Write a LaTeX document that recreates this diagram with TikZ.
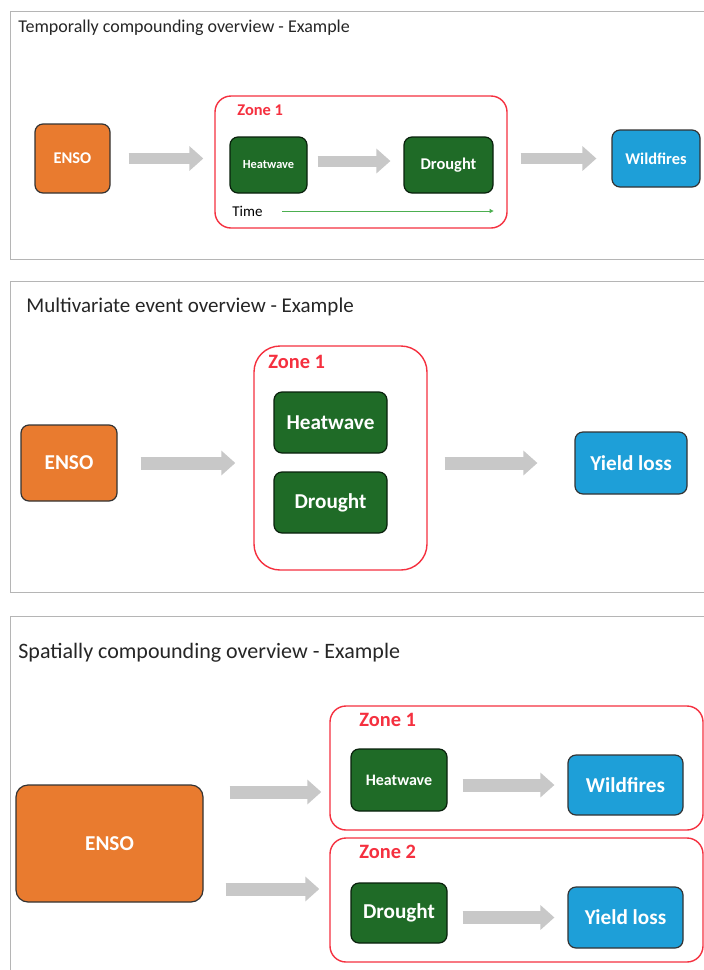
\documentclass[tikz,border=0pt]{standalone}
\usepackage{fontspec}
\setmainfont{Carlito}
\usetikzlibrary{arrows.meta,calc}
\definecolor{ensoC}{HTML}{E97B2F}
\definecolor{greenC}{HTML}{1F6B27}
\definecolor{blueC}{HTML}{1E9FD8}
\definecolor{zoneC}{HTML}{F5303F}
\definecolor{arrC}{HTML}{C8C8C8}
\definecolor{panelC}{HTML}{B5B5B5}
\definecolor{timeC}{HTML}{4CAF50}
\definecolor{edgeC}{HTML}{333333}
\newcommand{\fsz}[1]{\fontsize{#1}{#1}\selectfont}
\begin{document}
\begin{tikzpicture}[x=0.5pt,y=-0.5pt,
  panel/.style={draw=panelC,line width=0.5pt},
  boxbase/.style={rounded corners=4pt,line width=0.6pt,text=white,inner sep=0pt,align=center},
  ensobox/.style={boxbase,fill=ensoC,draw=edgeC},
  greenbox/.style={boxbase,fill=greenC,draw=black!70!greenC},
  bluebox/.style={boxbase,fill=blueC,draw=edgeC},
  zonebox/.style={draw=zoneC,line width=0.7pt,rounded corners=8pt,inner sep=0pt},
  zonelabel/.style={text=zoneC,anchor=west,inner sep=0pt},
  titlelabel/.style={anchor=west,inner sep=0pt,text=black!85},
  bigarrow/.style={draw=arrC,line width=6.5pt,-{Triangle[width=12pt,length=7pt]}},
]
\useasboundingbox (0,0) rectangle (704,970);
\fill[white] (0,0) rectangle (704,970);

% ---------------- Panel 1 ----------------
\draw[panel] (10,11) rectangle (720,259);
\node[titlelabel,font=\fsz{9pt}] (t1) at (18,28) {Temporally compounding overview - Example};
\node[ensobox,minimum width=37.5pt,minimum height=34.5pt,font=\bfseries\fsz{8.2pt}] (enso1) at (72.5,158.5) {ENSO};
\node[zonebox,minimum width=146pt,minimum height=66pt] (zone1a) at (361,162) {};
\node[zonelabel,font=\bfseries\fsz{8.2pt}] (zl1) at (237,110) {Zone 1};
\node[greenbox,minimum width=38.5pt,minimum height=28pt,font=\bfseries\fsz{6.2pt}] (hw1) at (268.5,165) {Heatwave};
\node[greenbox,minimum width=44.5pt,minimum height=28pt,font=\bfseries\fsz{8.2pt}] (dr1) at (448.5,165) {Drought};
\node[anchor=west,inner sep=0pt,font=\fsz{7.5pt}] (time1) at (232,211) {Time};
\node[bluebox,minimum width=44pt,minimum height=28.5pt,font=\bfseries\fsz{8.2pt}] (wf1) at (656,158.5) {Wildfires};
\draw[bigarrow,line width=5.5pt,shorten <=9pt,shorten >=5.5pt] (enso1.east) -- (enso1.east -| zone1a.west);
\draw[bigarrow,line width=5.5pt,shorten <=5pt,shorten >=6.5pt] ([yshift=2pt]hw1.east) -- ([yshift=2pt]dr1.west);
\draw[bigarrow,line width=5.5pt,shorten <=6.5pt,shorten >=7.5pt] (zone1a.east |- wf1.west) -- (wf1.west);
\draw[timeC,line width=0.5pt,shorten <=9.5pt,-{Triangle[width=2pt,length=2pt]}] (time1.east) -- (time1.east -| dr1.east);

% ---------------- Panel 2 ----------------
\draw[panel] (10,281) rectangle (720,592);
\node[titlelabel,font=\fsz{10.5pt}] (t2) at (26,307) {Multivariate event overview - Example};
\node[ensobox,minimum width=48pt,minimum height=38pt,font=\bfseries\fsz{10.6pt}] (enso2) at (69,463) {ENSO};
\node[zonebox,rounded corners=13pt,minimum width=86.5pt,minimum height=112pt] (zone2a) at (340.5,458) {};
\node[zonelabel,font=\bfseries\fsz{10.2pt}] (zl2) at (268,362) {Zone 1};
\node[greenbox,minimum width=56.5pt,minimum height=30.5pt,font=\bfseries\fsz{10.6pt}] (hw2) at (330.5,422.5) {Heatwave};
\node[greenbox,minimum width=56.5pt,minimum height=30.5pt,font=\bfseries\fsz{10.6pt}] (dr2) at (330.5,502.5) {Drought};
\node[bluebox,minimum width=56pt,minimum height=31pt,font=\bfseries\fsz{10.6pt}] (yl2) at (631,463) {Yield loss};
\draw[bigarrow,shorten <=11.5pt,shorten >=9pt] (enso2.east) -- (enso2.east -| zone2a.west);
\draw[bigarrow,shorten <=8.5pt,shorten >=18.5pt] (zone2a.east |- yl2.west) -- (yl2.west);

% ---------------- Panel 3 ----------------
\draw[panel] (10,616) rectangle (720,990);
\node[titlelabel,font=\fsz{11pt}] (t3) at (18,653) {Spatially compounding overview - Example};
\node[ensobox,rounded corners=6pt,minimum width=93.5pt,minimum height=58.5pt,font=\bfseries\fsz{10.6pt}] (enso3) at (109.5,843.5) {ENSO};
\node[zonebox,minimum width=186.5pt,minimum height=62pt] (zone3a) at (516.5,768) {};
\node[zonelabel,font=\bfseries\fsz{10.2pt}] (zl3a) at (359,720) {Zone 1};
\node[greenbox,minimum width=48pt,minimum height=31pt,font=\bfseries\fsz{8pt}] (hw3) at (399,780) {Heatwave};
\node[bluebox,minimum width=57.5pt,minimum height=30pt,font=\bfseries\fsz{10.6pt}] (wf3) at (625.5,785) {Wildfires};
\node[zonebox,minimum width=186.5pt,minimum height=62pt] (zone3b) at (516.5,900) {};
\node[zonelabel,font=\bfseries\fsz{10.2pt}] (zl3b) at (359,852) {Zone 2};
\node[greenbox,minimum width=48pt,minimum height=30pt,font=\bfseries\fsz{10.6pt}] (dr3) at (399,913) {Drought};
\node[bluebox,minimum width=57.5pt,minimum height=30.5pt,font=\bfseries\fsz{10.6pt}] (yl3) at (625.5,917.5) {Yield loss};
\draw[bigarrow,shorten <=13pt,shorten >=4pt] ([yshift=25.75pt]enso3.east) -- ([yshift=25.75pt]enso3.east -| zone3a.west);
\draw[bigarrow,shorten <=11pt,shorten >=5pt] ([yshift=-22.75pt]enso3.east) -- ([yshift=-22.75pt]enso3.east -| zone3b.west);
\draw[bigarrow,shorten <=7.5pt,shorten >=6.5pt] (hw3.east |- wf3.west) -- (wf3.west);
\draw[bigarrow,shorten <=7.5pt,shorten >=6.5pt] (dr3.east |- yl3.west) -- (yl3.west);
\end{tikzpicture}
\end{document}
